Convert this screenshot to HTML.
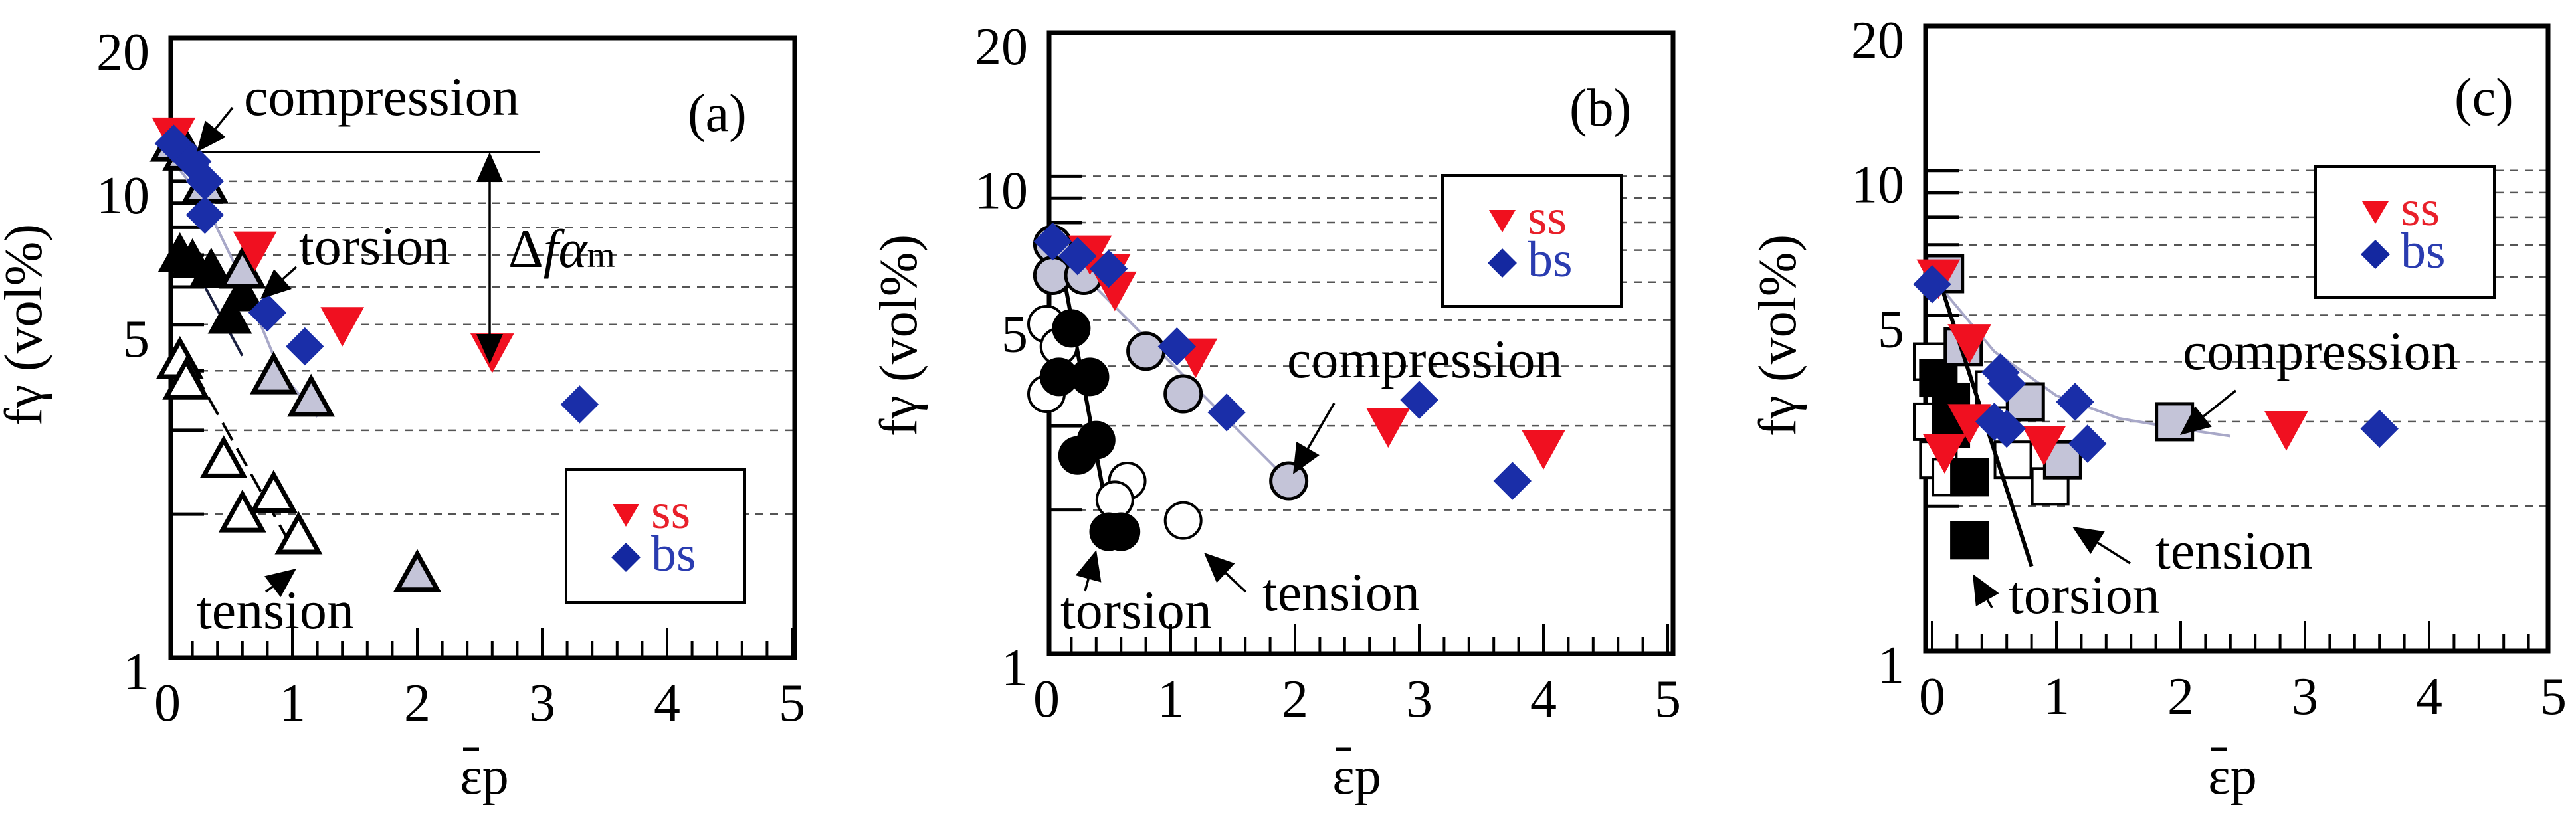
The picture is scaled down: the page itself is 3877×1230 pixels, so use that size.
<!DOCTYPE html>
<html><head><meta charset="utf-8"><style>
html,body{margin:0;padding:0;background:#fff;}
svg{display:block;font-family:"Liberation Serif","DejaVu Serif",serif;}
svg text{font-family:"Liberation Serif","DejaVu Serif",serif;}
</style></head><body>
<svg id="fig" width="3877" height="1230" viewBox="0 0 3877 1230" xmlns="http://www.w3.org/2000/svg" font-family="Liberation Serif, serif"></svg>
<script>
// ---- data: panel (a)
const aSsX=[0.05,0.7,1.4,2.6], aSsY=[12.5,7.2,5.0,4.4];
const aBsX=[0.05,0.2,0.3,0.3,0.8,1.1,3.3], aBsY=[12,11,10,8.5,5.3,4.5,3.4];
const aCompX=[0.05,0.15,0.3,0.6,0.85,1.15,2.0], aCompY=[12,11.5,9.8,6.5,3.9,3.5,1.5];
const aTensX=[0.1,0.15,0.45,0.6,0.85,1.05], aTensY=[4.2,3.8,2.6,2.0,2.2,1.8];
const aTorsX=[0.1,0.2,0.35,0.5,0.6], aTorsY=[7,6.8,6.5,5.2,5.8];
const aFitX=[0.05,0.3,0.6,0.9,1.2], aFitY=[11,9,6.2,4.0,3.2];
const aTensLineX=[0.1,1.0], aTensLineY=[4.5,1.7];
const aTorsLineX=[0.1,0.6], aTorsLineY=[7.5,4.3];
// ---- data: panel (b)
const bSsX=[0.35,0.5,0.55,1.2,2.75,4.0], bSsY=[6.9,6.3,5.8,4.2,3.0,2.7];
const bBsX=[0.05,0.25,0.5,1.05,1.45,3.0,3.75], bBsY=[7.3,6.8,6.4,4.4,3.2,3.4,2.3];
const bCompX=[0.05,0.05,0.3,0.8,1.1,1.95], bCompY=[7.2,6.2,6.2,4.3,3.5,2.3];
const bTorsX=[0.2,0.1,0.35,0.4,0.25,0.5,0.6], bTorsY=[4.8,3.8,3.8,2.8,2.6,1.8,1.8];
const bTensX=[0.0,0.0,0.1,0.65,0.55,1.1], bTensY=[4.9,3.5,4.4,2.3,2.1,1.9];
const bFitX=[0.05,1.95], bFitY=[7.2,2.3];
const bTorsLineX=[0.1,0.5], bTorsLineY=[7,1.9];
// ---- data: panel (c)
const cSsX=[0.05,0.3,0.3,0.1,0.9,2.85], cSsY=[6.0,4.4,3.0,2.6,2.7,2.9];
const cBsX=[0.0,0.55,0.6,1.15,0.5,0.6,1.25,3.6], cBsY=[5.8,3.8,3.6,3.3,3.0,2.9,2.7,2.9];
const cCompX=[0.1,0.25,0.75,1.05,1.95], cCompY=[6.1,4.3,3.3,2.5,3.0];
const cTensX=[0.0,0.0,0.05,0.5,0.65,0.95,0.15], cTensY=[4.0,3.0,2.5,3.5,2.5,2.2,2.3];
const cTorsX=[0.05,0.15,0.3,0.3,0.15], cTorsY=[3.7,3.3,2.3,1.7,2.9];
const cFitX=[0,0.5,1,1.5,2,2.4], cFitY=[6,4.2,3.4,3.05,2.9,2.8];
const cTorsLineX=[0.05,0.8], cTorsLineY=[6,1.5];
const gridVals=[2,3,4,5,6,7,8,9,10];
const yTickLabels=["20","10","5","1"], yTickVals=[20,10,5,1];
const xTickLabels=["0","1","2","3","4","5"];

const NS="http://www.w3.org/2000/svg";
const FF="Liberation Serif, DejaVu Serif, serif";
const svg=document.getElementById('fig');
function mk(tag,attrs,parent){const e=document.createElementNS(NS,tag);for(const k in attrs)e.setAttribute(k,attrs[k]);if(tag==='text')e.setAttribute('font-family',FF);(parent||svg).appendChild(e);return e;}

function panel(P){
  const g=mk('g',{});
  
  
  const X=v=>P.x0+v*P.u;
  const Y=v=>P.bot-(Math.log10(v)/Math.log10(20))*(P.bot-P.top);
  P.X=X;P.Y=Y;
  gridVals.forEach(v=>{
    const l=mk('line',{x1:P.left,x2:P.right,y1:Y(v),y2:Y(v),stroke:'#555','stroke-width':2.5,'stroke-dasharray':'12 10'},g);
    
    
    mk('line',{x1:P.left,x2:P.left+50,y1:Y(v),y2:Y(v),stroke:'#000','stroke-width':5},g);
  });
  for(let i=0;i<=25;i++){
    const v=i*0.2, len=(i%5===0)?45:25;
    if(X(v)<P.left-2||X(v)>P.right+2) continue;
    mk('line',{x1:X(v),x2:X(v),y1:P.bot,y2:P.bot-len,stroke:'#000','stroke-width':4},g);
  }
  const b=mk('rect',{x:P.left,y:P.top,width:P.right-P.left,height:P.bot-P.top,fill:'none',stroke:'#000','stroke-width':7},g);
  
  
  yTickVals.forEach((v,i)=>{
    const t=mk('text',{x:P.left-32,y:Y(v)+22+26,'text-anchor':'end','font-size':80},g);
    t.textContent=yTickLabels[i];
    
    
  });
  xTickLabels.forEach((s,i)=>{
    const t=mk('text',{x:X(i),y:P.bot+95,'text-anchor':'middle','font-size':80},g);
    t.textContent=s;
    
    
  });
  const yt=mk('text',{x:0,y:0,'text-anchor':'middle','font-size':80,transform:`translate(${P.ytx},${P.yty}) rotate(-90)`},g);
  yt.textContent='fγ (vol%)';
  
  
  const xt=mk('text',{x:P.xtx,y:1195,'text-anchor':'middle','font-size':80},g);
  xt.textContent='εp';
  
  
  mk('line',{x1:P.xtx-32,x2:P.xtx-8,y1:1128,y2:1128,stroke:'#000','stroke-width':5},g);
  return g;
}
function polyl(P,g,xs,ys,color,w,dash,name){
  const pts=xs.map((x,i)=>P.X(x)+','+P.Y(ys[i])).join(' ');
  const l=mk('polyline',{points:pts,fill:'none',stroke:color,'stroke-width':w,'stroke-dasharray':dash||'none'},g);
  
  
}
function markers(P,g,xs,ys,shape,fill,stroke,sw,name){
  xs.forEach((x,i)=>{
    const cx=P.X(x), cy=P.Y(ys[i]); let e;
    if(shape==='tdown') e=mk('polygon',{points:`${cx-32},${cy-26} ${cx+32},${cy-26} ${cx},${cy+32}`,fill,stroke,'stroke-width':sw},g);
    else if(shape==='tup') e=mk('polygon',{points:`${cx-30},${cy+24} ${cx+30},${cy+24} ${cx},${cy-30}`,fill,stroke,'stroke-width':sw},g);
    else if(shape==='dia') e=mk('polygon',{points:`${cx},${cy-28} ${cx+28},${cy} ${cx},${cy+28} ${cx-28},${cy}`,fill,stroke,'stroke-width':sw},g);
    else if(shape==='circ') e=mk('circle',{cx,cy,r:27,fill,stroke,'stroke-width':sw},g);
    else e=mk('rect',{x:cx-27,y:cy-27,width:54,height:54,fill,stroke,'stroke-width':sw},g);
    
    
  });
}
function txt(g,x,y,s,size,color,name){
  const t=mk('text',{x,y,'font-size':size,fill:color||'#000'},g);
  t.textContent=s;
  
  
  return t;
}
function arrow(g,x1,y1,x2,y2,name){
  const a=mk('g',{},g);
  
  
  const ang=Math.atan2(y2-y1,x2-x1), L=45, W=20;
  const bx=x2-L*Math.cos(ang), by=y2-L*Math.sin(ang);
  mk('line',{x1,y1,x2:bx,y2:by,stroke:'#000','stroke-width':3.5},a);
  mk('polygon',{points:`${x2},${y2} ${bx+W*Math.sin(ang)},${by-W*Math.cos(ang)} ${bx-W*Math.sin(ang)},${by+W*Math.cos(ang)}`,fill:'#000'},a);
}
function legend(g,x,y,w,h){
  const lg=mk('g',{},g);
  
  
  mk('rect',{x,y,width:w,height:h,fill:'#fff',stroke:'#000','stroke-width':4},lg);
  mk('polygon',{points:`${x+70},${y+52} ${x+110},${y+52} ${x+90},${y+86}`,fill:'#f0101e'},lg);
  txt(lg,x+128,y+88,'ss',76,'#e8202a','legend-entry-ss');
  mk('polygon',{points:`${x+90},${y+110} ${x+112},${y+132} ${x+90},${y+154} ${x+68},${y+132}`,fill:'#1428a0'},lg);
  txt(lg,x+128,y+152,'bs',76,'#2a3cb0','legend-entry-bs');
}
const RED='#f01020', BLUE='#1a2ea8', GREYF='#c4c4d8';

const PA={id:'a',left:257,right:1196,top:57,bot:990,x0:252,u:188,ytx:62,yty:489,xtx:729};
const ga=panel(PA);
mk('line',{x1:257,x2:812,y1:229,y2:229,stroke:'#000','stroke-width':3},ga);
polyl(PA,ga,aFitX,aFitY,'#a8a8c8',4,null,'fit-line-compression');
polyl(PA,ga,aTensLineX,aTensLineY,'#000',4,'30 14','fit-line-tension');
polyl(PA,ga,aTorsLineX,aTorsLineY,'#1a2040',4,null,'fit-line-torsion');
markers(PA,ga,aTensX,aTensY,'tup','#fff','#000',7,'tension-point');
markers(PA,ga,aTorsX,aTorsY,'tup','#000','#000',4,'torsion-point');
markers(PA,ga,aCompX,aCompY,'tup',GREYF,'#000',7,'compression-point');
markers(PA,ga,aSsX,aSsY,'tdown',RED,RED,1,'ss-point');
markers(PA,ga,aBsX,aBsY,'dia',BLUE,BLUE,1,'bs-point');
arrow(ga,737,400,737,229,'delta-arrow-up');
arrow(ga,737,400,737,548,'delta-arrow-down');
txt(ga,367,173,'compression',82,null,'compression-label');
arrow(ga,350,162,296,229,'compression-arrow');
txt(ga,450,398,'torsion',82,null,'torsion-label');
arrow(ga,446,402,392,450,'torsion-arrow');
txt(ga,296,946,'tension',82,null,'tension-label');
arrow(ga,400,891,446,856,'tension-arrow');
const dl=txt(ga,765,402,'Δ',82,null,'delta-f-alpha-label');
const ds=mk('tspan',{'font-style':'italic'},dl);ds.textContent='fα';
const dm=mk('tspan',{'font-size':54},dl);dm.textContent='m';
txt(ga,1035,197,'(a)',80,null,'panel-label-a');
legend(ga,852,707,269,200);

const PB={id:'b',left:1579,right:2518,top:49,bot:984,x0:1575,u:187,ytx:1379,yty:505,xtx:2042};
const gb=panel(PB);
polyl(PB,gb,bFitX,bFitY,'#a8a8c8',4,null,'fit-line-compression');
polyl(PB,gb,bTorsLineX,bTorsLineY,'#000',6,null,'fit-line-torsion');
markers(PB,gb,bTensX,bTensY,'circ','#fff','#000',4,'tension-point');
markers(PB,gb,bTorsX,bTorsY,'circ','#000','#000',4,'torsion-point');
markers(PB,gb,bCompX,bCompY,'circ',GREYF,'#000',5,'compression-point');
markers(PB,gb,bSsX,bSsY,'tdown',RED,RED,1,'ss-point');
markers(PB,gb,bBsX,bBsY,'dia',BLUE,BLUE,1,'bs-point');
txt(gb,1937,568,'compression',82,null,'compression-label');
arrow(gb,2008,607,1946,714,'compression-arrow');
txt(gb,1900,919,'tension',82,null,'tension-label');
arrow(gb,1875,891,1812,832,'tension-arrow');
txt(gb,1596,946,'torsion',82,null,'torsion-label');
arrow(gb,1633,890,1650,828,'torsion-arrow');
txt(gb,2362,189,'(b)',80,null,'panel-label-b');
legend(gb,2171,264,269,197);

const PC={id:'c',left:2898,right:3835,top:39,bot:980,x0:2908,u:187,ytx:2702,yty:505,xtx:3360};
const gc=panel(PC);
polyl(PC,gc,cFitX,cFitY,'#a8a8c8',4,null,'fit-line-compression');
markers(PC,gc,cTensX,cTensY,'sq','#fff','#000',4,'tension-point');
markers(PC,gc,cTorsX,cTorsY,'sq','#000','#000',4,'torsion-point');
markers(PC,gc,cCompX,cCompY,'sq',GREYF,'#000',5,'compression-point');
polyl(PC,gc,cTorsLineX,cTorsLineY,'#000',6,null,'fit-line-torsion');
markers(PC,gc,cSsX,cSsY,'tdown',RED,RED,1,'ss-point');
markers(PC,gc,cBsX,cBsY,'dia',BLUE,BLUE,1,'bs-point');
txt(gc,3285,556,'compression',82,null,'compression-label');
arrow(gc,3365,588,3281,655,'compression-arrow');
txt(gc,3244,856,'tension',82,null,'tension-label');
arrow(gc,3206,848,3119,793,'tension-arrow');
txt(gc,3023,923,'torsion',82,null,'torsion-label');
arrow(gc,2998,915,2969,864,'torsion-arrow');
txt(gc,3694,173,'(c)',80,null,'panel-label-c');
legend(gc,3485,251,269,197);
</script>
</body></html>
